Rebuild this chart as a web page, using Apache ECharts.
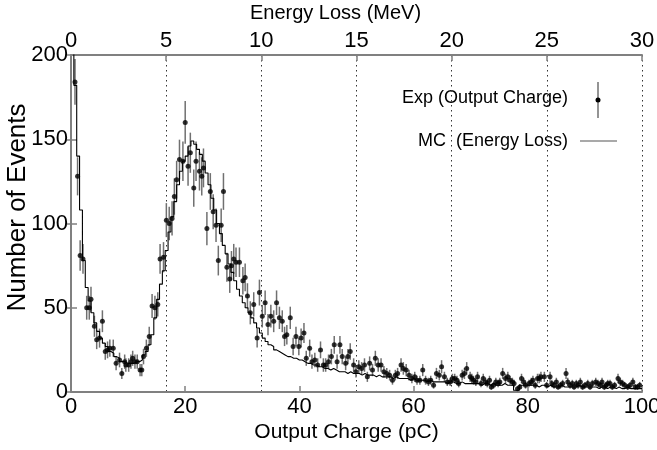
<!DOCTYPE html>
<html>
<head>
<meta charset="utf-8">
<script src="https://cdn.jsdelivr.net/npm/echarts@6/dist/echarts.min.js"></script>
<style>html,body{margin:0;padding:0;background:#fff}#c{width:657px;height:450px}</style>
</head>
<body>
<div id="c"></div>
<script>
// Experimental points: output charge (pC) and number of events
const expCharge = [
0.25,0.7,1.15,1.6,2.1,2.75,3.2,3.5,4.1,4.5,
5.0,5.5,6.0,6.4,6.8,7.4,7.9,8.5,8.9,9.4,
9.6,10.1,10.5,10.8,11.2,11.6,12.1,12.4,12.7,13.2,
13.7,14.2,14.7,15.2,15.6,16.2,16.7,17.2,17.7,18.1,
18.5,19.0,19.6,20.0,20.5,20.9,21.5,21.9,22.5,22.9,
23.2,23.8,24.4,24.9,25.4,25.8,26.3,26.7,27.3,27.8,
28.1,28.5,28.9,29.5,30.1,30.5,30.9,31.4,32.0,32.6,
33.0,33.5,34.0,34.5,35.0,35.5,36.0,36.5,37.0,37.4,
37.8,38.4,38.9,39.4,39.9,40.3,40.8,41.2,41.8,42.2,
42.7,43.2,43.7,44.2,44.6,45.1,45.6,46.1,46.6,47.1,
47.5,48.1,48.5,48.9,49.5,49.9,50.4,50.9,51.4,51.9,
52.3,52.8,53.3,53.8,54.3,54.8,55.3,55.8,56.3,56.8,
57.2,57.8,58.2,58.7,59.2,59.7,60.2,60.6,61.1,61.6,
62.1,62.6,63.0,63.5,64.0,64.5,64.9,65.4,65.9,66.4,
66.8,67.2,67.6,67.9,68.5,68.9,69.3,69.9,70.2,70.5,
70.9,71.2,71.8,72.2,72.6,72.9,73.3,73.6,74.0,74.4,
74.8,75.1,75.6,76.1,76.5,76.9,77.3,77.6,78.2,78.6,
78.9,79.3,79.6,80.2,80.6,80.9,81.3,81.7,82.0,82.3,
82.9,83.3,83.9,84.2,84.6,85.0,85.3,85.7,86.1,86.7,
87.0,87.4,87.8,88.1,88.5,88.8,89.2,89.6,90.0,90.5,
90.9,91.3,91.9,92.3,92.7,93.0,93.4,93.7,94.0,94.4,
94.8,95.2,95.8,96.2,96.6,97.0,97.5,97.9,98.4,98.8,
99.2,99.6
];
const expCount = [
230,184,128,81,79,50,50,55,39,31,
32,42,24,25,26,26,17,19,11,18,
16,16,18,20,18,18,13,13,21,26,
33,51,50,52,79,80,102,100,103,116,
126,138,137,160,134,142,121,137,131,128,
133,97,119,107,99,78,99,119,74,67,
75,79,77,77,66,68,57,47,52,32,
59,45,53,40,45,42,53,44,42,33,
34,44,27,33,27,32,35,20,26,18,
19,16,25,16,16,18,21,28,18,28,
21,17,21,24,16,12,15,14,16,9,
17,13,20,16,16,12,11,10,7,10,
11,16,14,13,10,8,9,7,7,13,
7,6,7,4,11,10,15,9,6,6,
8,8,7,5,10,11,14,9,8,7,
6,9,5,8,6,5,7,3,4,6,
5,6,11,8,9,7,6,5,2,3,
8,6,4,5,6,7,4,8,8,9,
9,4,9,5,4,6,3,4,5,11,
6,4,5,3,5,4,6,3,4,5,
3,5,6,5,4,6,3,4,5,5,
3,4,8,6,5,4,3,4,6,3,
3,4
];
// MC histogram (energy loss mapped to charge), bin width 0.5 pC from 0 to 100
const mcBinWidth = 0.5;
const mcCounts = [
215,182,140,108,78,62,54,47,41,36,
32,29,27,24,23,21,20,18,18,17,
17,17,18,18,19,22,24,28,34,44,
55,64,72,84,95,104,113,123,131,137,
140,146,149,147,144,141,137,130,123,115,
108,100,94,87,82,76,71,66,61,57,
53,50,47,44,41,38,35,32,30,28,
27,25,24,23,22,21,21,20,20,19,
19,18,17,17,16,16,15,15,14,14,
13,14,13,12,12,12,11,12,11,11,
11,10,11,10,10,10,9,10,9,9,
9,9,8,9,8,8,8,8,7,8,
7,7,7,7,6,7,6,6,6,6,
6,5,6,6,5,5,6,5,5,5,
5,5,5,4,5,5,4,5,4,4,
4,5,4,4,4,1,1,4,4,4,
4,4,4,3,4,4,3,4,3,3,
3,4,3,3,3,3,3,4,3,3,
3,3,3,3,2,3,3,2,3,3,
2,3,2,2,3,2,2,2,2,2
];
const chargeTicks = {min:0, max:100, interval:20};
const energyTicks = {min:0, max:30, interval:5};
const countTicks = {min:0, max:200, interval:50};

const FONT = 'Liberation Sans, Arial, Helvetica, sans-serif';
const n = Math.min(expCharge.length, expCount.length);
const expData = [];
for (let i = 0; i < n; i++) expData.push([expCharge[i], expCount[i], Math.sqrt(expCount[i])]);
const mcData = mcCounts.map((v, i) => [i * mcBinWidth, v]);
mcData.push([mcCounts.length * mcBinWidth, mcCounts[mcCounts.length - 1]]);

const frame = '#808080';
const chart = echarts.init(document.getElementById('c'), null, {renderer: 'canvas'});
chart.setOption({
  animation: false,
  backgroundColor: '#fff',
  textStyle: {fontFamily: FONT},
  grid: {left: 71, right: 15, top: 55, bottom: 58, containLabel: false, outerBoundsMode: 'none'},
  xAxis: [
    {type: 'value', position: 'bottom', min: chargeTicks.min, max: chargeTicks.max, interval: chargeTicks.interval,
     name: 'Output Charge (pC)', nameLocation: 'middle', nameGap: 30, nameMoveOverlap: false,
     nameTextStyle: {fontSize: 21, color: '#000', fontFamily: FONT, padding: [0, 20, 0, 0]},
     axisLine: {show: true, onZero: false, lineStyle: {color: frame, width: 2}},
     axisTick: {show: true, inside: true, length: 6, lineStyle: {color: frame, width: 1.5}},
     axisLabel: {fontSize: 22, color: '#000', margin: 4, fontFamily: FONT},
     splitLine: {show: false}},
    {type: 'value', position: 'top', min: energyTicks.min, max: energyTicks.max, interval: energyTicks.interval,
     name: 'Energy Loss (MeV)', nameLocation: 'middle', nameGap: 32, nameMoveOverlap: false,
     nameTextStyle: {fontSize: 20, color: '#000', fontFamily: FONT, padding: [0, 42, 0, 0]},
     axisLine: {show: true, onZero: false, lineStyle: {color: frame, width: 2}},
     axisTick: {show: true, inside: true, length: 6, lineStyle: {color: frame, width: 1.5}},
     axisLabel: {fontSize: 22, color: '#000', margin: 3, fontFamily: FONT},
     splitLine: {show: true, lineStyle: {type: [1.5, 3.5], color: '#333', width: 1}}}
  ],
  yAxis: [
    {type: 'value', position: 'left', min: countTicks.min, max: countTicks.max, interval: countTicks.interval,
     name: 'Number of Events', nameLocation: 'middle', nameGap: 40, nameRotate: 90, nameMoveOverlap: false,
     nameTextStyle: {fontSize: 26, color: '#000', fontFamily: FONT, padding: [0, 0, 0, 32]},
     axisLine: {show: true, onZero: false, lineStyle: {color: frame, width: 2}},
     axisTick: {show: true, inside: true, length: 6, lineStyle: {color: frame, width: 1.5}},
     axisLabel: {fontSize: 22, color: '#000', margin: 3, fontFamily: FONT},
     splitLine: {show: false}},
    {type: 'value', position: 'right', min: countTicks.min, max: countTicks.max, interval: countTicks.interval,
     axisLine: {show: false},
     axisTick: {show: true, inside: true, length: 4, lineStyle: {color: frame, width: 1.5}},
     axisLabel: {show: false},
     splitLine: {show: false}}
  ],
  series: [
    {type: 'custom', name: 'err', xAxisIndex: 0, yAxisIndex: 0, clip: true, z: 2,
     data: expData,
     renderItem: function (params, api) {
       const x = api.value(0), y = api.value(1), e = api.value(2);
       const p1 = api.coord([x, y - e]);
       const p2 = api.coord([x, y + e]);
       return {type: 'line', shape: {x1: p1[0], y1: p1[1], x2: p2[0], y2: p2[1]},
               style: {stroke: '#707070', lineWidth: 1.5}};
     }},
    {type: 'line', name: 'MC', xAxisIndex: 0, yAxisIndex: 0, step: 'end', data: mcData,
     symbol: 'none', clip: true, z: 3, lineStyle: {color: '#000', width: 1.1}},
    {type: 'scatter', name: 'Exp', xAxisIndex: 0, yAxisIndex: 0, data: expData.map(d => [d[0], d[1]]),
     symbol: 'circle', symbolSize: 5, clip: true, z: 4, itemStyle: {color: '#000'}}
  ],
  graphic: [
    {type: 'text', right: 657 - 568, top: 89,
     style: {text: 'Exp (Output Charge)', fontSize: 18, fontFamily: FONT, fill: '#000'}},
    {type: 'line', shape: {x1: 598, y1: 82, x2: 598, y2: 118}, style: {stroke: '#707070', lineWidth: 1.5}},
    {type: 'circle', shape: {cx: 598, cy: 100, r: 2.5}, style: {fill: '#000'}},
    {type: 'text', right: 657 - 568, top: 132,
     style: {text: 'MC  (Energy Loss)', fontSize: 18, fontFamily: FONT, fill: '#000'}},
    {type: 'line', shape: {x1: 580, y1: 141, x2: 617, y2: 141}, style: {stroke: '#555', lineWidth: 1.2}}
  ]
});
</script>
</body>
</html>
